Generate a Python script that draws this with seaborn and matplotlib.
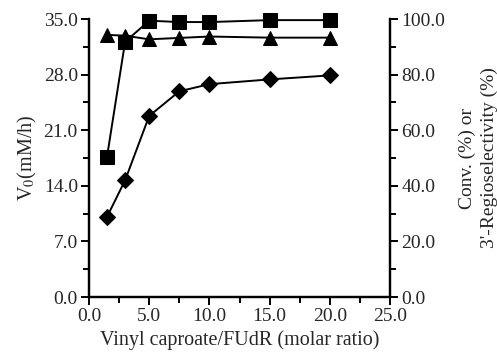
import seaborn as sns
import numpy as np
import pandas as pd
import matplotlib.pyplot as plt
from matplotlib.ticker import MultipleLocator, FormatStrFormatter

# molar ratio of vinyl caproate to FUdR
ratio = [1.5, 3.0, 5.0, 7.5, 10.0, 15.0, 20.0]
# initial rate V0 (mM/h), left axis
v0 = [10.1, 14.7, 22.8, 25.9, 26.8, 27.4, 27.9]
# substrate conversion (%), right axis
conv = [50.5, 91.8, 99.4, 98.9, 98.9, 99.6, 99.6]
# 3'-regioselectivity (%), right axis
regio = [94.3, 94.0, 92.7, 93.2, 93.7, 93.3, 93.3]

sns.set_style('ticks')
plt.rcParams['font.family'] = ['Liberation Serif', 'DejaVu Serif']
plt.rcParams['mathtext.fontset'] = 'stix'

df = pd.DataFrame({'ratio': ratio, 'v0': v0, 'conv': conv, 'regio': regio})

fig = plt.figure(figsize=(4.97, 3.52), dpi=100)
ax = fig.add_axes([0.179, 0.156, 0.606, 0.790])
ax2 = ax.twinx()

sns.lineplot(data=df, x='ratio', y='v0', ax=ax, color='black', marker='D',
             markersize=8.5, markeredgecolor='black', linewidth=1.4, clip_on=False)
sns.lineplot(data=df, x='ratio', y='conv', ax=ax2, color='black', marker='s',
             markersize=10.5, markeredgecolor='black', linewidth=1.4, clip_on=False)
sns.lineplot(data=df, x='ratio', y='regio', ax=ax2, color='black', marker='^',
             markersize=10.5, markeredgecolor='black', linewidth=1.4, clip_on=False)

ax.set_xlim(0, 25)
ax.set_ylim(0, 35)
ax2.set_ylim(0, 100)

ax.xaxis.set_major_locator(MultipleLocator(5))
ax.xaxis.set_minor_locator(MultipleLocator(2.5))
ax.yaxis.set_major_locator(MultipleLocator(7))
ax.yaxis.set_minor_locator(MultipleLocator(3.5))
ax2.yaxis.set_major_locator(MultipleLocator(20))
ax2.yaxis.set_minor_locator(MultipleLocator(10))
for a in (ax, ax2):
    a.xaxis.set_major_formatter(FormatStrFormatter('%.1f'))
    a.yaxis.set_major_formatter(FormatStrFormatter('%.1f'))
    a.tick_params(which='major', direction='out', length=6, width=1.4, labelsize=14,
                  color='black', pad=2)
    a.tick_params(which='minor', direction='out', length=4, width=1.4, color='black')
    for s in a.spines.values():
        s.set_linewidth(1.6)
        s.set_color('black')
    a.spines['top'].set_visible(False)

ax.set_xlabel('Vinyl caproate/FUdR (molar ratio)', fontsize=14.5, labelpad=4)
ax.set_ylabel('V$_0$(mM/h)', fontsize=14.5, labelpad=3)
ax2.set_ylabel("Conv. (%) or\n3'-Regioselectivity (%)", fontsize=14, labelpad=10,
               linespacing=1.35)

fig.savefig('out.png', dpi=100)
